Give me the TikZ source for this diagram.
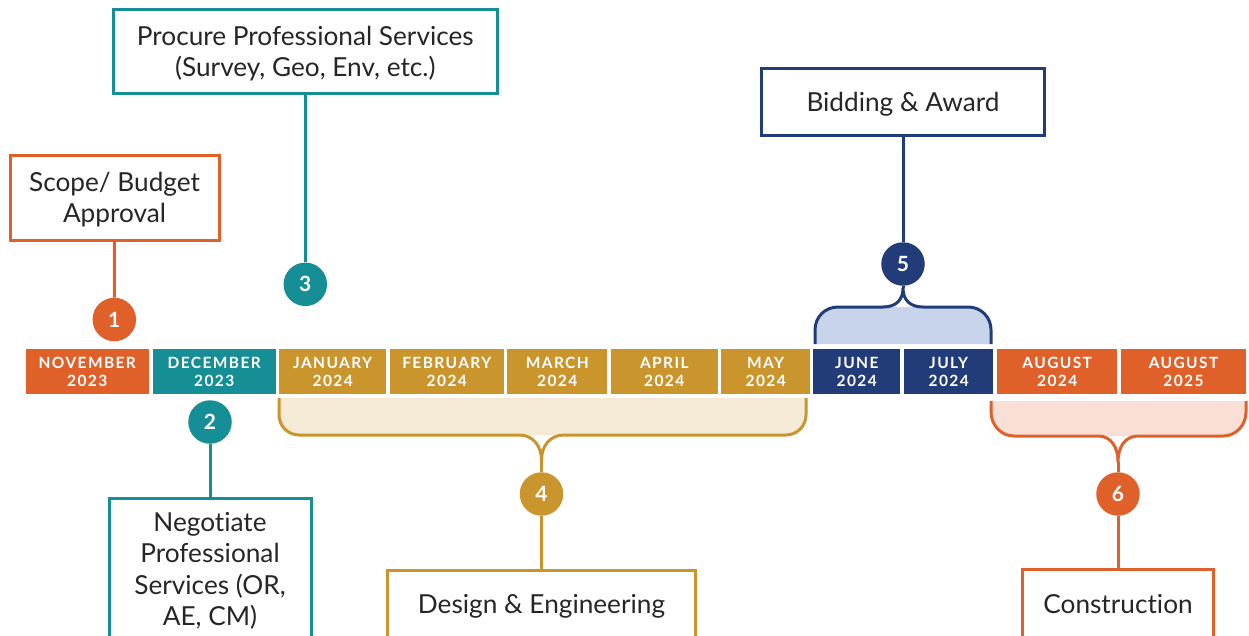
\documentclass[tikz,border=0pt]{standalone}
\usepackage{fontspec}
\setmainfont{Lato}[Ligatures=NoCommon]
\newfontfamily\monthfont{Lato}[LetterSpace=9]
\definecolor{cOrange}{HTML}{DF6129}
\definecolor{cTeal}{HTML}{168E96}
\definecolor{cGold}{HTML}{C9952C}
\definecolor{cNavy}{HTML}{213C78}
\definecolor{cOrangeLt}{HTML}{F9DFD5}
\definecolor{cGoldLt}{HTML}{F5EAD6}
\definecolor{cNavyLt}{HTML}{C7D4EB}
\definecolor{cText}{HTML}{262626}
\begin{document}
\begin{tikzpicture}[x=1pt,y=-1pt,
  month/.style={inner sep=0pt, minimum height=44.2pt, text=white, align=center,
    text depth=0pt, font=\monthfont\bfseries\fontsize{15.5}{18}\selectfont},
  num/.style={circle, inner sep=0pt, minimum size=43.5pt, text=white,
    font=\bfseries\fontsize{21}{21}\selectfont},
  tbox/.style={draw, line width=3pt, fill=white, inner sep=0pt, align=center,
    text depth=0pt, text=cText, font=\fontsize{26.2}{31.3}\selectfont},
  link/.style={line width=3pt},
  brace/.style={line width=3pt, line join=round}]
\useasboundingbox (0,0) rectangle (1249,635);
\clip (0,0) rectangle (1249,635);

% month strip
\node[month, fill=cOrange, minimum width=123.3pt] (nov)   at (87.3,371.4)  {NOVEMBER\\2023};
\node[month, fill=cTeal,   minimum width=123.3pt] (dec)   at (214.3,371.4) {DECEMBER\\2023};
\node[month, fill=cGold,   minimum width=106.7pt] (jan)   at (332.7,371.4) {JANUARY\\2024};
\node[month, fill=cGold,   minimum width=113.7pt] (feb)   at (446.8,371.4) {FEBRUARY\\2024};
\node[month, fill=cGold,   minimum width=100pt]   (mar)   at (557.3,371.4) {MARCH\\2024};
\node[month, fill=cGold,   minimum width=106.7pt] (apr)   at (664.3,371.4) {APRIL\\2024};
\node[month, fill=cGold,   minimum width=88.7pt]  (may)   at (765.7,371.4) {MAY\\2024};
\node[month, fill=cNavy,   minimum width=87pt]    (jun)   at (856.8,371.4) {JUNE\\2024};
\node[month, fill=cNavy,   minimum width=88.7pt]  (jul)   at (948.7,371.4) {JULY\\2024};
\node[month, fill=cOrange, minimum width=120.3pt] (aug24) at (1057.2,371.4) {AUGUST\\2024};
\node[month, fill=cOrange, minimum width=125pt]   (aug25) at (1183.5,371.4) {AUGUST\\2025};

% numbered markers
\node[num, fill=cOrange] (c1) at (114.3,319.5) {1};
\node[num, fill=cTeal]   (c2) at (210,422)     {2};
\node[num, fill=cTeal]   (c3) at (305.3,284.3) {3};
\node[num, fill=cGold]   (c4) at (541.5,494)   {4};
\node[num, fill=cNavy]   (c5) at (903,264)     {5};
\node[num, fill=cOrange] (c6) at (1118,494)    {6};

% design & engineering span (January - May)
\fill[cGoldLt] (279,398) -- (279,415) .. controls (279,426) and (288,435) .. (299,435)
  -- (786,435) .. controls (797,435) and (806,426) .. (806,415) -- (806,398) -- cycle;
\draw[brace, cGold] (279,398) -- (279,415) .. controls (279,426) and (288,435) .. (299,435)
  -- (519,435) .. controls (533,435) and (541.5,446) .. (541.5,460) coordinate (t4)
  .. controls (541.5,446) and (550,435) .. (564,435)
  -- (786,435) .. controls (797,435) and (806,426) .. (806,415) -- (806,398);
\draw[link, cGold] (t4) -- (c4);

% bidding span (June - July)
\fill[cNavyLt] (815,344) -- (815,330) .. controls (815,317) and (825,307) .. (838,307)
  -- (968,307) .. controls (981,307) and (991,317) .. (991,330) -- (991,344) -- cycle;
\draw[brace, cNavy] (815,344) -- (815,330) .. controls (815,317) and (825,307) .. (838,307)
  -- (883,307) .. controls (896,307) and (903,300) .. (903,288) coordinate (t5)
  .. controls (903,300) and (910,307) .. (923,307)
  -- (968,307) .. controls (981,307) and (991,317) .. (991,330) -- (991,344);
\draw[link, cNavy] (t5) -- (c5);

% construction span (August 2024 - August 2025)
\fill[cOrangeLt] (991,401) -- (991,412) .. controls (991,425) and (1001,436) .. (1014,436)
  -- (1223,436) .. controls (1236,436) and (1246,425) .. (1246,412) -- (1246,401) -- cycle;
\draw[brace, cOrange] (991,401) -- (991,412) .. controls (991,425) and (1001,436) .. (1014,436)
  -- (1098,436) .. controls (1111,436) and (1118,447) .. (1118,462) coordinate (t6)
  .. controls (1118,447) and (1125,436) .. (1138,436)
  -- (1223,436) .. controls (1236,436) and (1246,425) .. (1246,412) -- (1246,401);
\draw[link, cOrange] (t6) -- (c6);

% milestone boxes
\node[tbox, draw=cOrange, minimum width=209pt, minimum height=85pt]  (scope)  at (114.5,197.5) {Scope/ Budget\\Approval};
\node[tbox, draw=cTeal,   minimum width=384pt, minimum height=84pt]  (procure) at (305.3,51)  {Procure Professional Services\\(Survey, Geo, Env, etc.)};
\node[tbox, draw=cNavy,   minimum width=283pt, minimum height=67pt]  (bid)    at (903,101.5)   {Bidding \& Award};
\node[tbox, draw=cTeal,   minimum width=202pt, minimum height=142pt] (nego)   at (210,569)     {Negotiate\\Professional\\Services (OR,\\AE, CM)};
\node[tbox, draw=cGold,   minimum width=308pt, minimum height=68pt]  (design) at (541.5,604)   {Design \& Engineering};
\node[tbox, draw=cOrange, minimum width=191pt, minimum height=69pt]  (constr) at (1118,604)    {Construction};

% connectors
\draw[link, cOrange] (scope) -- (c1);
\draw[link, cTeal]   (procure) -- (c3);
\draw[link, cNavy]   (bid) -- (c5);
\draw[link, cTeal]   (c2) -- (nego);
\draw[link, cGold]   (c4) -- (design);
\draw[link, cOrange] (c6) -- (constr);
\end{tikzpicture}
\end{document}
